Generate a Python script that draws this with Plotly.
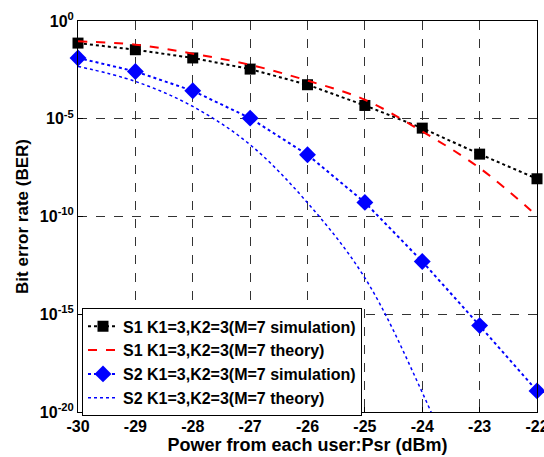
import plotly.graph_objects as go

power_dbm = [-30, -29, -28, -27, -26, -25, -24, -23, -22]
x_tick_labels = ["-30", "-29", "-28", "-27", "-26", "-25", "-24", "-23", "-22"]

y_tick_vals = [1, 1e-5, 1e-10, 1e-15, 1e-20]
y_tick_labels = ["10<sup>0</sup>", "10<sup>-5</sup>", "10<sup>-10</sup>",
                 "10<sup>-15</sup>", "10<sup>-20</sup>"]

# BER values given as -log10(BER)
s1_sim_exp = [1.13, 1.47, 1.89, 2.46, 3.26, 4.32, 5.48, 6.81, 8.07]
s1_theory_exp = [1.04, 1.21, 1.67, 2.24, 3.05, 4.03, 5.65, 7.52, 9.96]
s2_sim_exp = [1.89, 2.58, 3.57, 4.97, 6.84, 9.28, 12.3, 15.58, 18.92]
s2_theory_exp = [2.32, 3.09, 4.37, 6.33, 9.3, 13.14, 19.0, 26.0, 34.0]

names = [
    "S1 K1=3,K2=3(M=7 simulation)",
    "S1 K1=3,K2=3(M=7 theory)",
    "S2 K1=3,K2=3(M=7 simulation)",
    "S2 K1=3,K2=3(M=7 theory)",
]

def ber(exps):
    return [10 ** (-e) for e in exps]

FONT = "Arial, Liberation Sans, sans-serif"

fig = go.Figure()
fig.add_trace(go.Scatter(
    x=power_dbm, y=ber(s1_sim_exp), name=names[0], mode="lines+markers",
    line=dict(color="black", width=2, dash="dot"),
    marker=dict(symbol="square", size=11, color="black"),
    cliponaxis=False,
))
fig.add_trace(go.Scatter(
    x=power_dbm, y=ber(s1_theory_exp), name=names[1], mode="lines",
    line=dict(color="red", width=2, dash="dash", shape="spline"),
))
fig.add_trace(go.Scatter(
    x=power_dbm, y=ber(s2_sim_exp), name=names[2], mode="lines+markers",
    line=dict(color="blue", width=2, dash="dot"),
    marker=dict(symbol="diamond", size=13, color="blue"),
    cliponaxis=False,
))
fig.add_trace(go.Scatter(
    x=power_dbm, y=ber(s2_theory_exp), name=names[3], mode="lines",
    line=dict(color="blue", width=1.5, dash="dot", shape="spline"),
))

fig.update_layout(
    width=544, height=457,
    margin=dict(l=78, r=7, t=21, b=45),
    paper_bgcolor="white", plot_bgcolor="white",
    font=dict(family=FONT, size=15, color="black", weight="bold"),
    showlegend=True,
    legend=dict(
        x=0.0087, y=0.265, xanchor="left", yanchor="top",
        bgcolor="white", bordercolor="black", borderwidth=1,
        font=dict(family=FONT, size=16, color="black", weight="bold"),
        tracegroupgap=0, itemsizing="trace",
    ),
)

fig.update_xaxes(
    range=[-30, -22], tickvals=power_dbm, ticktext=x_tick_labels,
    ticklabeloverflow="allow", automargin=False,
    showline=True, linecolor="black", linewidth=1, mirror=True,
    ticks="inside", ticklen=5, tickcolor="black",
    showgrid=True, gridcolor="#333333", gridwidth=1, griddash="dash",
    zeroline=False,
    tickfont=dict(family=FONT, size=16, color="black", weight="bold"),
    title=dict(text="Power from each user:Psr (dBm)", standoff=2,
               font=dict(family=FONT, size=18, color="black", weight="bold")),
)
fig.update_yaxes(
    type="log", range=[-20, 0], tickvals=y_tick_vals, ticktext=y_tick_labels,
    ticklabeloverflow="allow", automargin=False,
    showline=True, linecolor="black", linewidth=1, mirror=True,
    ticks="inside", ticklen=5, tickcolor="black",
    showgrid=True, gridcolor="#333333", gridwidth=1, griddash="dash",
    zeroline=False,
    tickfont=dict(family=FONT, size=16, color="black", weight="bold"),
    title=dict(text="Bit error rate (BER)", standoff=6,
               font=dict(family=FONT, size=17, color="black", weight="bold")),
)

fig.write_html("out.html", config={"displayModeBar": False})

# remove default page margin so the figure sits at the window origin
with open("out.html", "r", encoding="utf-8") as f:
    html = f.read()
html = html.replace("<head>", "<head><style>html,body{margin:0;padding:0;}</style>", 1)
with open("out.html", "w", encoding="utf-8") as f:
    f.write(html)
